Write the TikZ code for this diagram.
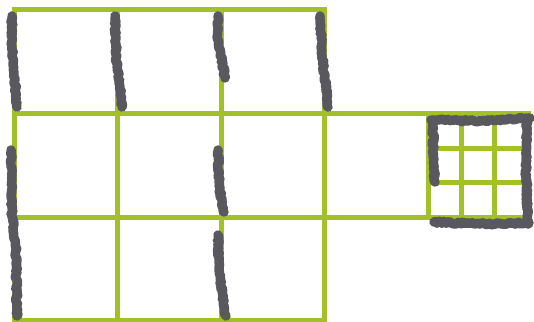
\documentclass[tikz,border=0pt]{standalone}
\usepackage{tikz}
\usetikzlibrary{decorations.pathmorphing}
\definecolor{gridgreen}{RGB}{162,192,40}
\definecolor{brushgray}{RGB}{88,88,94}

\begin{document}
\begin{tikzpicture}[x=1pt,y=-1pt,
		gridline/.style={gridgreen, line width=5pt, line cap=rect},
		brush/.style={brushgray, line width=9.5pt, line cap=round, line join=round,
			decorate, decoration={random steps, segment length=2pt, amplitude=1.1pt}}]
		\useasboundingbox (0,0) rectangle (534,321);
		% Cell size and origin of the grid
		\def\s{103.5}
		\def\ox{14}
		\def\oy{10}
		% Main 3x3 block
		\foreach \i in {0,...,3} {
			\draw[gridline] (\ox+\i*\s,\oy) -- (\ox+\i*\s,\oy+3*\s);
			\draw[gridline] (\ox,\oy+\i*\s) -- (\ox+3*\s,\oy+\i*\s);
		}
		% Middle row runs on to the small box
		\draw[gridline] (\ox+3*\s,\oy+\s) -- (528,\oy+\s);
		\draw[gridline] (\ox+3*\s,\oy+2*\s) -- (528,\oy+2*\s);
		\draw[gridline] (\ox+4*\s,\oy+\s) -- (\ox+4*\s,\oy+2*\s);
		% Small 3x3 box
		\foreach \k in {1,2,3} {
			\draw[gridline] (\ox+4*\s+\k*33.3,\oy+\s) -- (\ox+4*\s+\k*33.3,\oy+2*\s);
		}
		\foreach \k in {1,2} {
			\draw[gridline] (\ox+4*\s,\oy+\s+\k*\s/3) -- (528,\oy+\s+\k*\s/3);
		}
		% Brush strokes, top row
		\draw[brush] (12,16) -- (12,50) -- (17,107);
		\draw[brush] (115,16) -- (116,55) -- (122,107);
		\draw[brush] (218,16) -- (218,40) -- (225,78);
		\draw[brush] (320,16) -- (322,50) -- (328,107);
		% Brush strokes, middle and bottom rows
		\draw[brush] (11,150) -- (12,215) -- (16,250) -- (17,316);
		\draw[brush] (218,150) -- (219,185) -- (224,212);
		\draw[brush] (218,235) -- (219,270) -- (226,316);
		% Brush frame round the small box
		\draw[brush] (431,120) -- (480,121) -- (530,118);
		\draw[brush] (527,118) -- (526,170) -- (528,223);
		\draw[brush] (434,222) -- (480,224) -- (529,223);
		\draw[brush] (433,120) -- (433,150) -- (435,182);
	\end{tikzpicture}
\end{document}
